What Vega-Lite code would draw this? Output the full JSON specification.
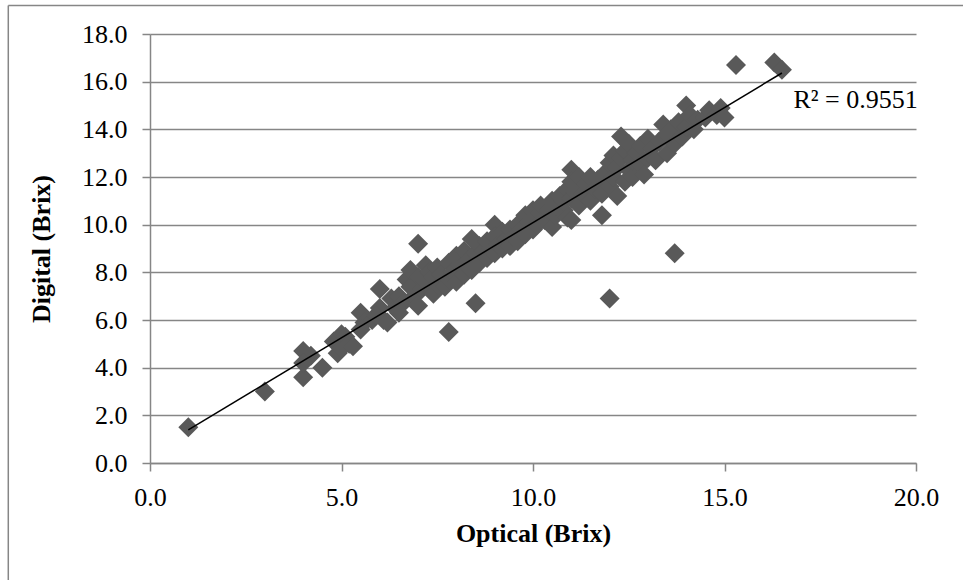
{
  "$schema": "https://vega.github.io/schema/vega-lite/v6.json",
  "width": 766,
  "height": 429,
  "autosize": "none",
  "padding": {"left": 150, "top": 34, "right": 47, "bottom": 117},
  "background": "white",
  "config": {
    "view": {"stroke": null},
    "font": "Liberation Serif"
  },
  "datasets": {
    "pts": [
      {"optical":1.0,"digital":1.5},{"optical":3.0,"digital":3.0},{"optical":4.0,"digital":4.7},{"optical":4.0,"digital":3.6},
      {"optical":4.2,"digital":4.5},{"optical":4.0,"digital":4.2},{"optical":4.5,"digital":4.0},{"optical":4.8,"digital":5.1},
      {"optical":4.9,"digital":4.6},{"optical":5.0,"digital":4.8},{"optical":5.0,"digital":5.4},{"optical":5.1,"digital":5.3},
      {"optical":5.2,"digital":5.0},{"optical":5.3,"digital":4.9},{"optical":5.5,"digital":6.3},{"optical":5.6,"digital":5.9},
      {"optical":5.5,"digital":5.6},{"optical":5.8,"digital":6.0},{"optical":6.0,"digital":7.3},{"optical":6.0,"digital":6.5},
      {"optical":5.9,"digital":6.2},{"optical":6.1,"digital":6.0},{"optical":6.2,"digital":5.9},{"optical":6.3,"digital":6.9},
      {"optical":6.4,"digital":6.5},{"optical":6.5,"digital":6.3},{"optical":6.5,"digital":7.0},{"optical":6.6,"digital":6.7},
      {"optical":6.7,"digital":7.7},{"optical":6.8,"digital":7.4},{"optical":6.8,"digital":8.1},{"optical":6.9,"digital":7.0},
      {"optical":7.0,"digital":9.2},{"optical":7.0,"digital":6.6},{"optical":7.0,"digital":7.8},{"optical":7.1,"digital":7.3},
      {"optical":7.2,"digital":8.3},{"optical":7.2,"digital":7.6},{"optical":7.3,"digital":8.0},{"optical":7.4,"digital":7.1},
      {"optical":7.4,"digital":7.8},{"optical":7.5,"digital":8.2},{"optical":7.5,"digital":7.5},{"optical":7.6,"digital":7.9},
      {"optical":7.7,"digital":7.4},{"optical":7.8,"digital":5.5},{"optical":7.8,"digital":8.4},{"optical":7.8,"digital":7.7},
      {"optical":7.9,"digital":8.0},{"optical":8.0,"digital":8.7},{"optical":8.0,"digital":7.6},{"optical":8.1,"digital":8.3},
      {"optical":8.2,"digital":8.9},{"optical":8.2,"digital":7.9},{"optical":8.3,"digital":8.5},{"optical":8.4,"digital":9.4},
      {"optical":8.4,"digital":8.1},{"optical":8.5,"digital":6.7},{"optical":8.5,"digital":8.8},{"optical":8.6,"digital":9.1},
      {"optical":8.6,"digital":8.4},{"optical":8.7,"digital":8.9},{"optical":8.8,"digital":9.3},{"optical":8.8,"digital":8.6},
      {"optical":8.9,"digital":9.0},{"optical":9.0,"digital":10.0},{"optical":9.0,"digital":9.5},{"optical":9.0,"digital":8.8},
      {"optical":9.1,"digital":9.2},{"optical":9.2,"digital":9.7},{"optical":9.2,"digital":9.0},{"optical":9.3,"digital":9.4},
      {"optical":9.4,"digital":9.8},{"optical":9.4,"digital":9.1},{"optical":9.5,"digital":9.5},{"optical":9.6,"digital":10.0},
      {"optical":9.6,"digital":9.3},{"optical":9.7,"digital":9.8},{"optical":9.8,"digital":10.4},{"optical":9.8,"digital":9.6},
      {"optical":9.9,"digital":10.1},{"optical":10.0,"digital":10.6},{"optical":10.0,"digital":9.8},{"optical":10.0,"digital":10.3},
      {"optical":10.1,"digital":10.0},{"optical":10.2,"digital":10.5},{"optical":10.2,"digital":10.8},{"optical":10.3,"digital":10.2},
      {"optical":10.4,"digital":10.6},{"optical":10.5,"digital":9.9},{"optical":10.5,"digital":11.0},{"optical":10.6,"digital":10.4},
      {"optical":10.6,"digital":10.8},{"optical":10.7,"digital":11.2},{"optical":10.8,"digital":10.6},{"optical":10.8,"digital":11.0},
      {"optical":10.9,"digital":11.5},{"optical":10.9,"digital":10.3},{"optical":11.0,"digital":12.3},{"optical":11.0,"digital":11.8},
      {"optical":11.0,"digital":10.2},{"optical":11.0,"digital":11.1},{"optical":11.1,"digital":11.4},{"optical":11.2,"digital":10.8},
      {"optical":11.2,"digital":12.0},{"optical":11.3,"digital":11.3},{"optical":11.4,"digital":11.7},{"optical":11.5,"digital":11.0},
      {"optical":11.5,"digital":12.0},{"optical":11.6,"digital":11.5},{"optical":11.7,"digital":11.9},{"optical":11.8,"digital":10.4},
      {"optical":11.8,"digital":11.3},{"optical":11.9,"digital":12.2},{"optical":12.0,"digital":6.9},{"optical":12.0,"digital":12.6},
      {"optical":12.0,"digital":11.6},{"optical":12.1,"digital":12.0},{"optical":12.1,"digital":12.9},{"optical":12.2,"digital":11.2},
      {"optical":12.2,"digital":12.4},{"optical":12.3,"digital":13.7},{"optical":12.3,"digital":12.8},{"optical":12.4,"digital":11.8},
      {"optical":12.4,"digital":13.1},{"optical":12.5,"digital":12.3},{"optical":12.5,"digital":13.4},{"optical":12.6,"digital":12.0},
      {"optical":12.6,"digital":12.7},{"optical":12.7,"digital":13.0},{"optical":12.8,"digital":12.5},{"optical":12.8,"digital":13.3},
      {"optical":12.9,"digital":12.1},{"optical":13.0,"digital":12.8},{"optical":13.0,"digital":13.6},{"optical":13.1,"digital":13.2},
      {"optical":13.2,"digital":12.7},{"optical":13.3,"digital":13.5},{"optical":13.4,"digital":14.2},{"optical":13.5,"digital":13.0},
      {"optical":13.5,"digital":13.8},{"optical":13.6,"digital":14.0},{"optical":13.7,"digital":8.8},{"optical":13.7,"digital":13.4},
      {"optical":13.8,"digital":14.3},{"optical":13.9,"digital":13.7},{"optical":14.0,"digital":15.0},{"optical":14.0,"digital":14.1},
      {"optical":14.1,"digital":14.6},{"optical":14.2,"digital":14.0},{"optical":14.3,"digital":14.4},{"optical":14.5,"digital":14.5},
      {"optical":14.6,"digital":14.8},{"optical":14.8,"digital":14.6},{"optical":14.9,"digital":14.9},{"optical":15.0,"digital":14.5},
      {"optical":15.3,"digital":16.7},{"optical":16.3,"digital":16.8},{"optical":16.5,"digital":16.5}
    ],
    "frameLeft": [{"x": -3.7, "y1": 19.2, "y2": -7}],
    "frameTop": [{"x1": -3.7, "x2": 23, "y": 19.2}],
    "label": [{"x": 16.8, "y": 15.25, "text": "R² = 0.9551"}]
  },
  "layer": [
    {
      "data": {"name": "frameLeft"},
      "mark": {"type": "rule", "stroke": "#868686", "strokeWidth": 1.5, "clip": false},
      "encoding": {
        "x": {"field": "x", "type": "quantitative", "scale": {"domain": [0, 20]}},
        "y": {"field": "y1", "type": "quantitative", "scale": {"domain": [0, 18]}},
        "y2": {"field": "y2"}
      }
    },
    {
      "data": {"name": "frameTop"},
      "mark": {"type": "rule", "stroke": "#868686", "strokeWidth": 1.5, "clip": false},
      "encoding": {
        "x": {"field": "x1", "type": "quantitative"},
        "x2": {"field": "x2"},
        "y": {"field": "y", "type": "quantitative"}
      }
    },
    {
      "data": {"name": "pts"},
      "mark": {"type": "point", "shape": "diamond", "filled": true, "size": 400, "color": "#595959", "opacity": 1},
      "encoding": {
        "x": {
          "field": "optical", "type": "quantitative",
          "scale": {"domain": [0, 20], "nice": false, "zero": false},
          "axis": {
            "title": "Optical (Brix)", "values": [0, 5, 10, 15, 20], "format": ".1f", "labelFlush": false,
            "grid": false, "domainColor": "#868686", "domainWidth": 1.5, "tickColor": "#868686", "tickWidth": 1.5, "tickSize": 8,
            "labelFont": "Liberation Serif", "labelFontSize": 26, "labelColor": "black", "labelPadding": 13,
            "titleFont": "Liberation Serif", "titleFontSize": 26, "titleFontWeight": "bold", "titleColor": "black", "titlePadding": 10
          }
        },
        "y": {
          "field": "digital", "type": "quantitative",
          "scale": {"domain": [0, 18], "nice": false, "zero": false},
          "axis": {
            "title": "Digital (Brix)", "values": [0, 2, 4, 6, 8, 10, 12, 14, 16, 18], "format": ".1f", "labelFlush": false,
            "grid": true, "gridColor": "#868686", "gridWidth": 1.5,
            "domainColor": "#868686", "domainWidth": 1.5, "tickColor": "#868686", "tickWidth": 1.5, "tickSize": 8,
            "labelFont": "Liberation Serif", "labelFontSize": 26, "labelColor": "black", "labelPadding": 15,
            "titleFont": "Liberation Serif", "titleFontSize": 26, "titleFontWeight": "bold", "titleColor": "black", "titlePadding": 27
          }
        }
      }
    },
    {
      "data": {"name": "pts"},
      "transform": [{"regression": "digital", "on": "optical"}],
      "mark": {"type": "line", "color": "black", "strokeWidth": 1.5},
      "encoding": {
        "x": {"field": "optical", "type": "quantitative"},
        "y": {"field": "digital", "type": "quantitative"}
      }
    },
    {
      "data": {"name": "label"},
      "mark": {"type": "text", "align": "left", "baseline": "middle", "font": "Liberation Serif", "fontSize": 26, "color": "black"},
      "encoding": {
        "x": {"field": "x", "type": "quantitative"},
        "y": {"field": "y", "type": "quantitative"},
        "text": {"field": "text"}
      }
    }
  ]
}
